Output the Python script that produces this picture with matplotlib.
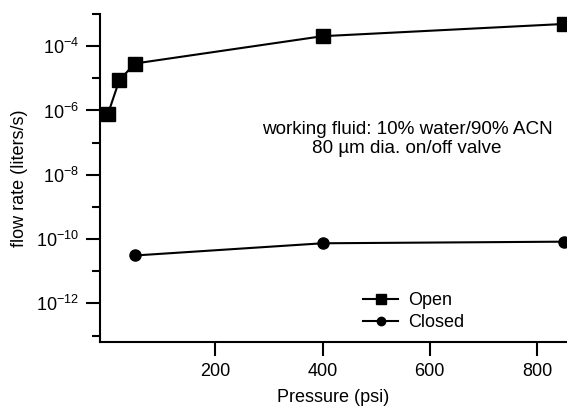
import matplotlib
matplotlib.use("Agg")
import matplotlib.pyplot as plt
from matplotlib.ticker import FixedLocator, NullLocator

plt.rcParams['font.family'] = ['Liberation Sans', 'DejaVu Sans']
plt.rcParams['mathtext.fontset'] = 'custom'
plt.rcParams['mathtext.rm'] = 'Liberation Sans'
plt.rcParams['mathtext.it'] = 'Liberation Sans'

open_p = [0, 21, 50, 400, 850]
open_flow = [10**-6.1, 10**-5.06, 10**-4.54, 10**-3.69, 10**-3.31]
closed_p = [50, 400, 850]
closed_flow = [10**-10.51, 10**-10.13, 10**-10.08]

x_ticks = [200, 400, 600, 800]
y_major = [1e-4, 1e-6, 1e-8, 1e-10, 1e-12]
y_major_labels = ['10$^{-4}$', '10$^{-6}$', '10$^{-8}$', '10$^{-10}$', '10$^{-12}$']
y_minor = [1e-3, 1e-5, 1e-7, 1e-9, 1e-11, 1e-13]

FS = 13

fig = plt.figure(figsize=(5.67, 4.08), dpi=100)
ax = fig.add_axes([100/567, 1-342/408, 1-100/567, (342-14)/408])

ax.plot(open_p, open_flow, color='black', lw=1.5, marker='s', ms=9.5, label='Open')
ax.plot(closed_p, closed_flow, color='black', lw=1.5, marker='o', ms=8, label='Closed')

ax.set_yscale('log')
ax.set_xlim(-15, 856)
ax.set_ylim(10**-13.2, 1e-3)

ax.xaxis.set_major_locator(FixedLocator(x_ticks))
ax.xaxis.set_minor_locator(NullLocator())
ax.set_xticklabels([str(v) for v in x_ticks])
ax.yaxis.set_major_locator(FixedLocator(y_major))
ax.yaxis.set_minor_locator(FixedLocator(y_minor))
ax.set_yticklabels(y_major_labels)
ax.yaxis.set_minor_formatter(plt.NullFormatter())

for s in ['top', 'right']:
    ax.spines[s].set_visible(False)
for s in ['left', 'bottom']:
    ax.spines[s].set_linewidth(1.5)

ax.tick_params(axis='both', which='major', direction='out', length=10, width=1.5, labelsize=FS, pad=5)
ax.tick_params(axis='y', which='minor', direction='out', length=6, width=1.5)

ax.set_xlabel('Pressure (psi)', fontsize=FS)
ax.xaxis.set_label_coords(0.5, (342-389)/328)
ax.set_ylabel('flow rate (liters/s)', fontsize=FS)
ax.yaxis.set_label_coords((20-100)/467, 0.5)
ax.yaxis.label.set_verticalalignment('center')

ax.text(558, 10**-6.875, 'working fluid: 10% water/90% ACN\n80 µm dia. on/off valve',
        ha='center', va='center', fontsize=13.6, linespacing=1.15)

ax.legend(loc='upper left', bbox_to_anchor=((363-100)/467, (342-292)/328), frameon=False,
          fontsize=FS, handlelength=1.95, handletextpad=0.55, labelspacing=0.3, borderpad=0,
          borderaxespad=0, markerscale=0.75)

fig.savefig('out.png', dpi=100)
